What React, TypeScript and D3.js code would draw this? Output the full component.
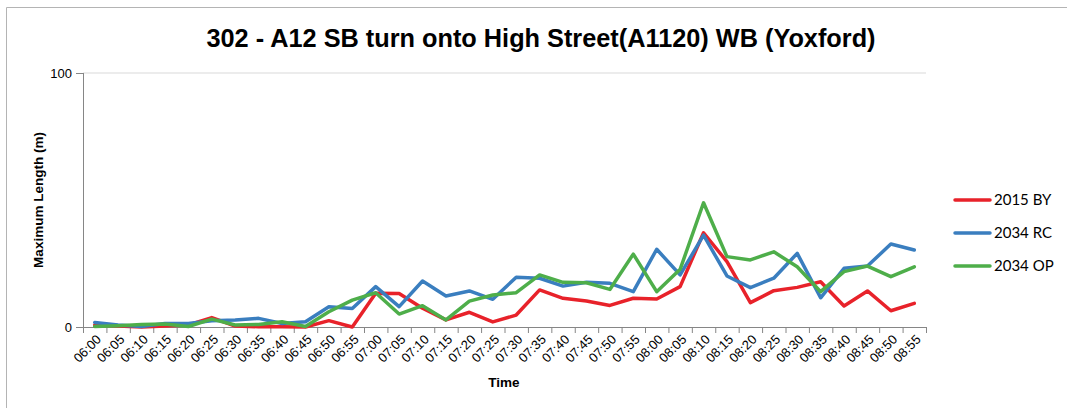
import React from "react";
import * as d3 from "d3";

const times = [
  "06:00","06:05","06:10","06:15","06:20","06:25","06:30","06:35","06:40","06:45","06:50","06:55",
  "07:00","07:05","07:10","07:15","07:20","07:25","07:30","07:35","07:40","07:45","07:50","07:55",
  "08:00","08:05","08:10","08:15","08:20","08:25","08:30","08:35","08:40","08:45","08:50","08:55",
];

const by2015 = [
  0.8,0.4,0,0.4,0.8,3.7,0.4,0.1,0.1,0,2.5,0,
  13.3,13.2,7.4,2.8,5.8,2.0,4.7,14.6,11.3,10.2,8.5,11.3,
  11.0,15.9,37.1,25.7,9.6,14.3,15.6,17.8,8.3,14.2,6.4,9.3,
];
const rc2034 = [
  1.8,0.8,0.2,1.4,1.4,2.5,2.8,3.4,1.4,2.1,8.0,7.3,
  15.9,8.0,18.1,12.2,14.2,10.9,19.6,19.2,16.1,17.6,17.2,13.9,
  30.6,20.5,36.2,20.1,15.5,19.2,29.0,11.5,23.1,24.0,32.7,30.3,
];
const op2034 = [
  0.2,0.5,1.0,1.2,0.2,3.1,0.8,1.0,2.1,0.2,6.0,10.6,
  13.5,5.1,8.4,2.8,10.2,12.6,13.5,20.5,17.6,17.4,14.8,28.7,
  13.9,22.7,48.9,27.7,26.4,29.6,23.7,13.9,21.8,24.0,19.8,23.7,
];

const seriesNames = ["2015 BY", "2034 RC", "2034 OP"];
const seriesColors = ["#e8222a", "#3a7ebf", "#4eae4a"];
const yTicks = [0, 100];

const title = "302 - A12 SB turn onto High Street(A1120) WB (Yoxford)";

export default function App() {
  const W = 1067, H = 408;
  const left = 83, right = 926, top = 73, bottom = 327;
  const x = d3.scaleBand<string>().domain(times).range([left, right]).padding(0);
  const y = d3.scaleLinear().domain([0, 100]).range([bottom, top]);
  const bw = x.bandwidth();
  const allSeries = [by2015, rc2034, op2034];
  const line = d3
    .line<number>()
    .x((_, i) => (x(times[i]) as number) + bw / 2)
    .y((d) => y(d));

  const arial = { fontFamily: '"Liberation Sans", Arial, sans-serif' };
  const lato = { fontFamily: 'Lato, "Open Sans", sans-serif' };
  const boundaries = times.map((t) => x(t) as number).concat([right]);

  return (
    <svg
      width={W}
      height={H}
      style={{ position: "fixed", left: 0, top: 0, background: "#fff" }}
    >
      <rect x={0} y={0} width={W} height={H} fill="#fff" />
      <path d={`M6.5,${H + 5} V7.5 H${W + 5}`} fill="none" stroke="#b4b4b4" strokeWidth={1} />

      <text x={541} y={47} textAnchor="middle" fontSize={25.3} fontWeight="bold" fill="#000" style={arial}>
        {title}
      </text>

      <line x1={left} x2={right} y1={y(100)} y2={y(100)} stroke="#d9d9d9" strokeWidth={1} />

      <line x1={left + 0.5} x2={left + 0.5} y1={top} y2={bottom} stroke="#868686" />
      {yTicks.map((t) => (
        <g key={t}>
          <line x1={left - 7} x2={left} y1={y(t) + 0.5} y2={y(t) + 0.5} stroke="#868686" />
          <text x={left - 11} y={y(t)} dy="0.36em" textAnchor="end" fontSize={13} fill="#000" style={arial}>
            {t}
          </text>
        </g>
      ))}

      <line x1={left} x2={right} y1={bottom + 0.5} y2={bottom + 0.5} stroke="#868686" />
      {boundaries.map((bx, i) => (
        <line key={i} x1={bx + 0.5} x2={bx + 0.5} y1={bottom} y2={bottom + 6} stroke="#868686" />
      ))}
      {times.map((t) => {
        const cx = (x(t) as number) + bw / 2 + 4;
        const cy = bottom + 10;
        return (
          <text
            key={t}
            transform={`translate(${cx},${cy}) rotate(-45)`}
            textAnchor="end"
            dy="0.35em"
            fontSize={13}
            fill="#000"
            style={arial}
          >
            {t}
          </text>
        );
      })}

      {allSeries.map((s, i) => (
        <path
          key={i}
          d={line(s) || ""}
          fill="none"
          stroke={seriesColors[i]}
          strokeWidth={3.5}
          strokeLinejoin="round"
          strokeLinecap="round"
        />
      ))}

      <text x={504} y={387} textAnchor="middle" fontSize={13.5} fontWeight="bold" fill="#000" style={arial}>
        Time
      </text>
      <text
        transform={`translate(43,200) rotate(-90)`}
        textAnchor="middle"
        fontSize={13.5}
        fontWeight="bold"
        fill="#000"
        style={arial}
      >
        Maximum Length (m)
      </text>

      {seriesNames.map((n, i) => {
        const ly = [200, 233, 266][i];
        return (
          <g key={n}>
            <line x1={955} x2={990} y1={ly} y2={ly} stroke={seriesColors[i]} strokeWidth={3.5} strokeLinecap="round" />
            <text x={994} y={ly} dy="0.36em" fontSize={15} fill="#000" style={lato}>
              {n}
            </text>
          </g>
        );
      })}
    </svg>
  );
}
